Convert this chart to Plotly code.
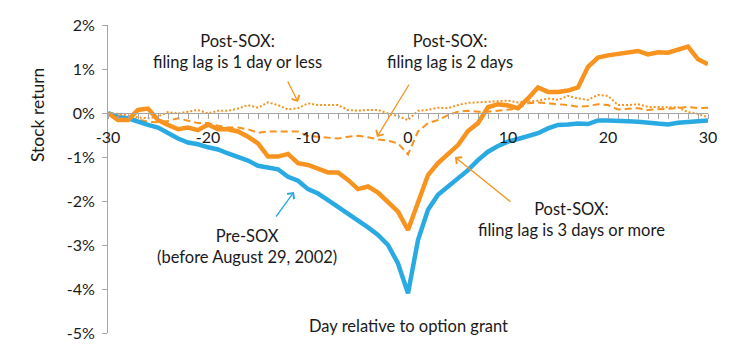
import plotly.graph_objects as go

days = list(range(-30, 31))

pre_sox = [0.00, -0.10, -0.12, -0.20, -0.27, -0.33, -0.46, -0.58, -0.67, -0.71,
           -0.78, -0.83, -0.92, -1.00, -1.08, -1.20, -1.24, -1.28, -1.45, -1.54,
           -1.73, -1.83, -1.98, -2.13, -2.30, -2.43, -2.60, -2.77, -3.00, -3.42,
           -4.10, -2.89, -2.20, -1.86, -1.67, -1.48, -1.30, -1.07, -0.88, -0.75,
           -0.65, -0.59, -0.52, -0.46, -0.35, -0.27, -0.26, -0.24, -0.25, -0.17,
           -0.17, -0.17, -0.19, -0.20, -0.22, -0.25, -0.26, -0.22, -0.21, -0.20,
           -0.17]

lag3_more = [0.00, -0.16, -0.16, 0.07, 0.10, -0.16, -0.27, -0.37, -0.33, -0.39,
             -0.26, -0.37, -0.37, -0.42, -0.54, -0.69, -0.99, -0.99, -0.93, -1.14,
             -1.18, -1.26, -1.35, -1.35, -1.52, -1.73, -1.67, -1.81, -2.02, -2.24,
             -2.66, -2.05, -1.41, -1.14, -0.94, -0.73, -0.41, -0.23, 0.13, 0.20,
             0.17, 0.11, 0.33, 0.58, 0.48, 0.48, 0.51, 0.58, 1.05, 1.26,
             1.31, 1.34, 1.39, 1.41, 1.33, 1.38, 1.37, 1.43, 1.51, 1.22,
             1.11]

lag2 = [0.00, -0.05, -0.10, -0.16, -0.20, -0.21, -0.18, -0.12, -0.18, -0.23,
        -0.23, -0.29, -0.33, -0.33, -0.37, -0.45, -0.42, -0.42, -0.41, -0.42,
        -0.52, -0.54, -0.56, -0.58, -0.54, -0.52, -0.55, -0.60, -0.63, -0.69,
        -0.94, -0.42, -0.23, -0.16, -0.05, 0.03, 0.05, 0.03, 0.03, 0.05,
        0.07, 0.10, 0.22, 0.24, 0.22, 0.20, 0.18, 0.14, 0.16, 0.20,
        0.18, 0.08, 0.09, 0.11, 0.07, 0.08, 0.09, 0.11, 0.14, 0.11,
        0.12]

lag1_less = [0.00, -0.02, -0.06, -0.10, -0.12, -0.08, 0.02, -0.01, 0.03, 0.07,
             -0.01, 0.05, 0.05, 0.10, 0.18, 0.12, 0.24, 0.18, 0.08, 0.11,
             0.22, 0.18, 0.18, 0.18, 0.07, 0.05, 0.07, 0.07, -0.01, -0.07,
             -0.16, 0.05, 0.07, 0.12, 0.11, 0.18, 0.23, 0.24, 0.26, 0.26,
             0.28, 0.24, 0.26, 0.28, 0.33, 0.30, 0.39, 0.33, 0.30, 0.41,
             0.39, 0.18, 0.18, 0.20, 0.14, 0.13, 0.13, 0.13, 0.02, -0.02,
             -0.10]

x_tickvals = [-30, -20, -10, 0, 10, 20, 30]
x_ticktext = ["-30", "-20", "-10", "0", "10", "20", "30"]
y_tickvals = [0.02, 0.01, 0.0, -0.01, -0.02, -0.03, -0.04, -0.05]
y_ticktext = ["2%", "1%", "0%", "-1%", "-2%", "-3%", "-4%", "-5%"]

BLUE = "#2AAAE2"
ORANGE = "#F7931E"
AXIS = "#A6A6A6"
TXT = "#1a1a1a"
FONT = "Lato"

def pct(v):
    return [a / 100.0 for a in v]

fig = go.Figure()
fig.add_trace(go.Scatter(x=days, y=pct(lag1_less), mode="lines",
                         line=dict(color=ORANGE, width=2, dash="2px,2px")))
fig.add_trace(go.Scatter(x=days, y=pct(lag2), mode="lines",
                         line=dict(color=ORANGE, width=2, dash="7px,4px")))
fig.add_trace(go.Scatter(x=days, y=pct(pre_sox), mode="lines",
                         line=dict(color=BLUE, width=4.5)))
fig.add_trace(go.Scatter(x=days, y=pct(lag3_more), mode="lines",
                         line=dict(color=ORANGE, width=4.5)))

def px2x(px):
    return (px - 408) / 10.0

def px2y(py):
    return (113 - py) / 44.0 / 100.0

W, H = 748, 357
L, R, T, B = 108, 40, 25, 24
pw, ph = W - L - R, H - T - B

anns = []
texts = [
    ("Post-SOX:<br>filing lag is 1 day or less", 237, 51),
    ("Post-SOX:<br>filing lag is 2 days", 450, 51),
    ("Pre-SOX<br>(before August 29, 2002)", 247, 246),
    ("Post-SOX:<br>filing lag is 3 days or more", 571, 219),
]
for t, px, py in texts:
    anns.append(dict(x=px2x(px), y=px2y(py), xref="x", yref="y", text=t,
                     showarrow=False, font=dict(family=FONT, size=16.5, color=TXT),
                     align="center"))

arrows = [
    ((287, 80), (298, 102), ORANGE),
    ((410, 83), (377, 137), ORANGE),
    ((275, 218), (294, 192), BLUE),
    ((512, 203), (455, 157), ORANGE),
]
for (tx, ty), (hx, hy), c in arrows:
    anns.append(dict(x=px2x(hx), y=px2y(hy), ax=px2x(tx), ay=px2y(ty),
                     xref="x", yref="y", axref="x", ayref="y", text="",
                     showarrow=True, arrowhead=4, arrowsize=1.3, arrowwidth=1.3,
                     arrowcolor=c))

anns.append(dict(x=(37 - L) / pw, y=(H - B - 115) / ph, xref="paper", yref="paper",
                 text="Stock return", textangle=-90, showarrow=False,
                 xanchor="center", yanchor="middle",
                 font=dict(family=FONT, size=17.5, color=TXT)))
anns.append(dict(x=(408 - L) / pw, y=(H - B - 326) / ph, xref="paper", yref="paper",
                 text="Day relative to option grant", showarrow=False,
                 xanchor="center", yanchor="middle",
                 font=dict(family=FONT, size=16.5, color=TXT)))

fig.update_layout(
    width=W, height=H,
    margin=dict(l=L, r=R, t=T, b=B),
    paper_bgcolor="white", plot_bgcolor="white",
    showlegend=False,
    font=dict(family=FONT, size=16, color=TXT),
    annotations=anns,
    xaxis=dict(range=[-30, 30], tickvals=x_tickvals, ticktext=x_ticktext,
               anchor="free", position=5/7,
               showline=True, linecolor=AXIS, linewidth=1, showgrid=False,
               zeroline=False, ticks="outside", ticklen=5, tickcolor=AXIS,
               ticklabelstandoff=5,
               minor=dict(dtick=1, tick0=0, ticks="outside", ticklen=5, tickcolor=AXIS),
               tickfont=dict(family=FONT, size=16, color=TXT)),
    yaxis=dict(range=[-0.05, 0.02], tickvals=y_tickvals, ticktext=y_ticktext,
               domain=[0, 1],
               showline=True, linecolor=AXIS, linewidth=1, showgrid=False,
               zeroline=False, ticks="outside", ticklen=5, tickcolor=AXIS,
               ticklabelstandoff=4,
               tickfont=dict(family=FONT, size=16, color=TXT)),
)

fig.write_html("out.html", config={"displayModeBar": False},
               post_script="document.body.style.margin='0';document.body.style.overflow='hidden';")
